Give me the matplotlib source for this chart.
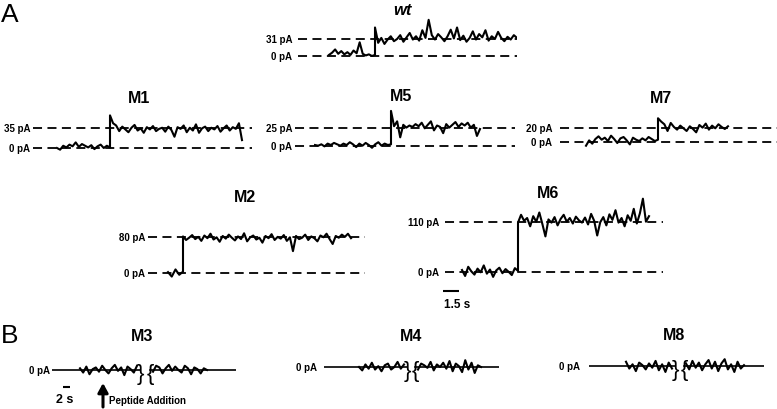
"""Single-channel current traces: wt and mutants M1-M8 (panels A and B)."""

import matplotlib

matplotlib.use("Agg")
import matplotlib.pyplot as plt  # noqa: E402
import numpy as np  # noqa: E402

plt.rcParams["font.family"] = ["Liberation Sans", "DejaVu Sans"]

W, H = 777, 410

# ---- data: open-state levels (pA) and sampled currents (pA) ----
A_NAMES = ["wt", "M1", "M5", "M7", "M2", "M6"]
A_LEVELS = [31, 35, 25, 20, 80, 110]

WT_CLOSED = [2, 6, 12, 4, 9, 3, 7, 2, 10, 5, 25, 4, 1, 3, 0, 2]
WT_OPEN = [52, 24, 33, 22, 30, 36, 27, 31, 38, 26, 34, 42, 30, 36, 28, 47,
           33, 66, 38, 30, 40, 34, 27, 36, 48, 32, 52, 29, 37, 26, 33, 45,
           30, 40, 34, 47, 28, 36, 31, 44, 33, 27, 35, 30, 38, 33]

M1_CLOSED = [0, -3, 4, 1, 6, 3, 10, 2, 7, 4, 1, 5, -2, 3, 6, 0, 4, 1]
M1_OPEN = [58, 44, 40, 30, 38, 33, 28, 36, 41, 31, 35, 27, 37, 33, 39, 30,
           34, 36, 29, 38, 32, 20, 37, 34, 40, 28, 36, 31, 42, 27, 35, 38,
           30, 36, 33, 39, 29, 35, 40, 31, 37, 34, 44, 14]

M5_CLOSED = [1, 0, 2, -1, 3, 1, 4, 2, 0, 3, 1, 5, 2, -2, 3, 0, 4, 1, -3, 2,
             5, 0, 3, 1, 2]
M5_OPEN = [50, 28, 35, 12, 30, 26, 29, 27, 31, 28, 33, 25, 30, 35, 22, 29,
           27, 18, 31, 26, 30, 34, 27, 32, 29, 33, 26, 30, 14, 24]

M7_CLOSED = [-6, 2, -3, 4, 8, 3, 6, 1, 9, 4, -2, 5, 7, 2, -4, 6, 3, 1, 5, 2,
             7, 4, 1, 3]
M7_OPEN = [35, 30, 26, 16, 28, 22, 18, 24, 20, 16, 23, 19, 14, 25, 21, 27,
           18, 24, 20, 26, 22, 19, 23]

M2_CLOSED = [2, -8, 8, -4, 3]
M2_OPEN = [82, 74, 79, 85, 76, 81, 72, 84, 78, 88, 75, 80, 70, 83, 77, 86,
           79, 73, 82, 76, 89, 71, 80, 84, 75, 79, 68, 83, 78, 87, 74, 81,
           77, 85, 72, 80, 49, 83, 76, 79, 86, 74, 82, 78, 71, 84, 80, 88,
           76, 65, 83, 79, 86, 81, 88, 78]

M6_CLOSED = [5, -8, 12, 2, -5, 8, 0, 15, -3, 6, -10, 4, 10, -2, 7, 1, -6, 9, 3]
M6_OPEN = [108, 125, 112, 118, 100, 122, 110, 130, 105, 78, 115, 108, 120,
           102, 116, 125, 110, 118, 106, 121, 113, 108, 119, 104, 127, 112,
           80, 109, 120, 102, 126, 114, 135, 108, 118, 100, 124, 112, 138,
           106, 128, 160, 110, 122]

A_TRACES = [(WT_CLOSED, WT_OPEN), (M1_CLOSED, M1_OPEN), (M5_CLOSED, M5_OPEN),
            (M7_CLOSED, M7_OPEN), (M2_CLOSED, M2_OPEN), (M6_CLOSED, M6_OPEN)]

# panel B: no channel activity, before / after peptide addition (pA)
B_NAMES = ["M3", "M4", "M8"]
M3_BEFORE = [2, -3, 4, -5, 1, 3, -2, 5, 0, -4, 2, 6, -1, 3, -6, 4, 1, -3, 5]
M3_AFTER = [-2, 5, 3, -4, 2, 6, -1, 4, 0, -3, 5, 2, -5, 3, 1, -4, 2, 0]
M4_BEFORE = [0, -4, 3, -2, 5, -3, 1, -5, 2, 4, -3, 0, 6, -2, 3]
M4_AFTER = [-3, 4, 2, -1, 6, -4, 3, 0, 5, -2, 7, -5, 4, 1, -6, 8, -3, 5,
            -7, 2, 0]
M8_BEFORE = [5, -3, 2, -6, 4, 1, -4, 3, -2, 6, -5, 2, -7, 4, -3]
M8_AFTER = [3, -4, 6, -2, 4, -5, 2, 7, -3, 5, -6, 3, 8, -4, 2, -7, 5, -3, 1]
B_TRACES = [(M3_BEFORE, M3_AFTER), (M4_BEFORE, M4_AFTER),
            (M8_BEFORE, M8_AFTER)]

SCALE_A_S = 1.5
SCALE_B_S = 2.0

# ---- layout (pixels in the 777x410 canvas) ----
SPP_A = SCALE_A_S / 16  # seconds per pixel
SPP_B = SCALE_B_S / 7
PPA_B = 0.85  # px per pA in panel B
TRACE_LW = 1.5

# dash x0, x1, y(0 pA), y(level), trace start, step, end, label gap,
# title x, title baseline
A_LAYOUT = [
    (298, 517, 57, 40, 329, 375, 517, 6, 402, 15),
    (33, 252, 149, 129.3, 57, 110, 242, 3, 139, 103),
    (295, 515, 146.7, 129.3, 315, 391, 480, 3, 401, 101),
    (560, 777, 142.7, 129.3, 586, 658, 728, 8, 661, 103),
    (148, 365, 274, 238.3, 168, 183, 351, 3, 245, 202),
    (445, 663, 273.3, 222.7, 462, 518, 649, 6, 548, 198),
]
# line x0, x1, y(0 pA), seg a start, seg a end, brace 1, brace 2,
# seg b start, seg b end, label gap, title x, title baseline
B_LAYOUT = [
    (52, 236, 371, 80, 137, 140, 150, 153, 207, 2, 142, 341),
    (324, 499, 368, 359, 404, 407, 415, 418, 481, 7, 411, 341),
    (589, 764, 367, 626, 672, 675, 684, 686, 744, 9, 674, 340),
]

fig = plt.figure(figsize=(W / 100, H / 100), dpi=100)


def trace_axes(x0, x1, y_zero, px_per_pa, spp, lo=-150, hi=250):
    ax = fig.add_axes([x0 / W, 1 - (y_zero - lo * px_per_pa) / H,
                       (x1 - x0) / W, (hi - lo) * px_per_pa / H])
    ax.set_xlim(0, (x1 - x0) * spp)
    ax.set_ylim(lo, hi)
    ax.axis("off")
    return ax


def ftext(x, y, s, **kw):
    fig.text(x / W, 1 - y / H, s, va="baseline", **kw)


def level_label(ax, v, gap):
    ax.annotate(f"{v} pA", xy=(0, v), xytext=(-gap * 0.72, 0),
                textcoords="offset points", ha="right", va="center",
                fontsize=7, fontweight="bold", annotation_clip=False)


axes_a = []
for name, level, (closed, opened), lay in zip(A_NAMES, A_LEVELS, A_TRACES,
                                               A_LAYOUT):
    x0, x1, yz, yl, xs, xstep, xe, gap, tx, ty = lay
    ppa = (yz - yl) / level
    ax = trace_axes(x0, x1, yz, ppa, SPP_A)
    tmax = (x1 - x0) * SPP_A
    for v in (0, level):
        ax.plot([0, tmax], [v, v], color="black", lw=1.3, ls=(0, (5, 3)))
        level_label(ax, v, gap)
    t_c = np.linspace((xs - x0) * SPP_A, (xstep - x0) * SPP_A, len(closed))
    t_o = np.linspace((xstep - x0) * SPP_A, (xe - x0) * SPP_A, len(opened))
    ax.plot(np.r_[t_c, t_o], np.r_[closed, opened], color="black",
            lw=TRACE_LW)
    ftext(tx, ty, name, ha="center", fontsize=12 if name == "wt" else 11.5,
          fontweight="bold", style="italic" if name == "wt" else "normal")
    axes_a.append((ax, ppa, x0, yz))

# 1.5 s scale bar under M6
ax6, ppa6, x06, yz6 = axes_a[-1]
t0 = (443 - x06) * SPP_A
ax6.plot([t0, t0 + SCALE_A_S], [(yz6 - 292) / ppa6] * 2, color="black",
         lw=1.5, clip_on=False, solid_capstyle="butt")
ftext(444, 308, f"{SCALE_A_S:g} s", ha="left", fontsize=8.5,
      fontweight="bold")

axes_b = []
for name, (before, after), lay in zip(B_NAMES, B_TRACES, B_LAYOUT):
    x0, x1, yz, a0, a1, b1, b2, s0, s1, gap, tx, ty = lay
    ax = trace_axes(x0, x1, yz, PPA_B, SPP_B)
    tmax = (x1 - x0) * SPP_B
    tb1, tb2 = (b1 - x0) * SPP_B, (b2 - x0) * SPP_B
    ax.plot([0, tb1], [0, 0], color="black", lw=1.2)
    ax.plot([tb2, tmax], [0, 0], color="black", lw=1.2)
    ax.plot(np.linspace((a0 - x0) * SPP_B, (a1 - x0) * SPP_B, len(before)),
            before, color="black", lw=TRACE_LW)
    ax.plot(np.linspace((s0 - x0) * SPP_B, (s1 - x0) * SPP_B, len(after)),
            after, color="black", lw=TRACE_LW)
    ax.text(tb1, -4, "}", ha="center", va="center", fontsize=16)
    ax.text(tb2, -4, "{", ha="center", va="center", fontsize=16)
    level_label(ax, 0, gap)
    ftext(tx, ty, name, ha="center", fontsize=11.5, fontweight="bold")
    axes_b.append((ax, x0, yz))

# 2 s scale bar and peptide-addition arrow under M3
ax3, x03, yz3 = axes_b[0]
t0 = (63 - x03) * SPP_B
ax3.plot([t0, t0 + SCALE_B_S], [(yz3 - 388) / PPA_B] * 2, color="black",
         lw=1.5, clip_on=False, solid_capstyle="butt")
ftext(65, 403, f"{SCALE_B_S:g} s", ha="center", fontsize=9,
      fontweight="bold")
t_arrow = (103 - x03) * SPP_B
ax3.annotate("", xy=(t_arrow, (yz3 - 384) / PPA_B),
             xytext=(t_arrow, (yz3 - 408) / PPA_B),
             arrowprops=dict(arrowstyle="-|>,head_length=0.55,head_width=0.3",
                             lw=2.2, color="black", shrinkA=0, shrinkB=0),
             annotation_clip=False)
ftext(109, 404, "Peptide Addition", ha="left", fontsize=7, fontweight="bold")

ftext(10, 22, "A", ha="center", fontsize=19)
ftext(10, 343, "B", ha="center", fontsize=19)

fig.savefig("out.png", dpi=100)
